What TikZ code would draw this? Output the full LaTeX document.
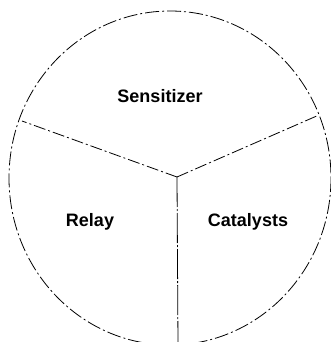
\documentclass[tikz,border=0pt]{standalone}
\usepackage{fontspec}
\setmainfont{Liberation Sans}
\usepackage{tikz}
\usetikzlibrary{calc}
\tikzset{
    rimline/.style={line width=0.8pt, dash pattern=on 14pt off 3pt on 2pt off 3pt},
    spokeline/.style={line width=0.8pt, dash pattern=on 12pt off 3pt on 2pt off 3pt},
    sector/.style={font=\fontsize{18}{21}\selectfont\bfseries, inner sep=0pt}
}

\begin{document}
\begin{tikzpicture}[x=1pt, y=-1pt]
        \useasboundingbox (0,0) rectangle (331,342);
        \clip (0,0) rectangle (331,342);
        % outer rim
        \draw[rimline] (170,178) ellipse [x radius=161, y radius=167];
        % hub and rim points
        \coordinate (hub) at (177,177);
        \coordinate (rimL) at (22,121);
        \coordinate (rimR) at (319,115);
        \coordinate (rimB) at (178,345);
        \draw[spokeline] (hub) -- (rimL);
        \draw[spokeline] (hub) -- (rimR);
        \draw[spokeline, dash pattern=on 30pt off 2pt on 2pt off 2pt] (hub) -- (rimB);
        % sector labels
        \node[sector] (sens) at (160,96) {Sensitizer};
        \node[sector] (relay) at (90,222) {Relay};
        \node[sector] (cat) at (248,222) {Catalysts};
    \end{tikzpicture}
\end{document}
